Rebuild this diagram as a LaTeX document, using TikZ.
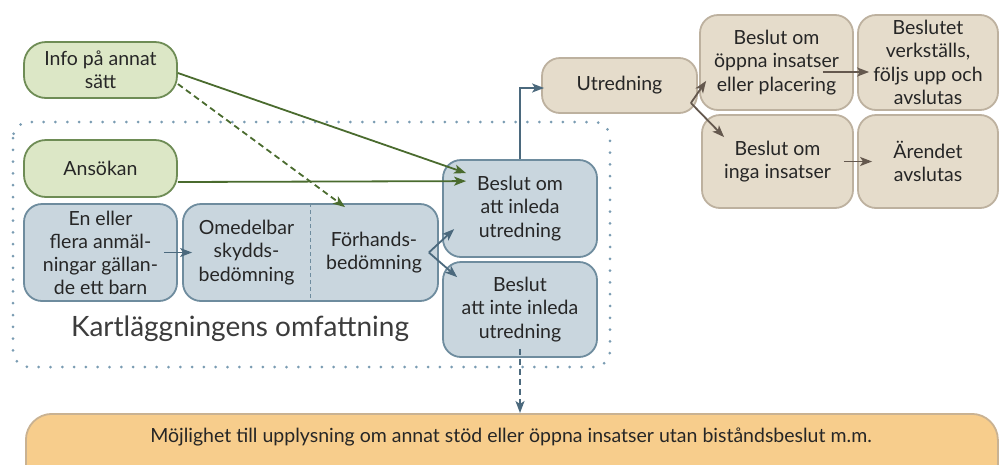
\documentclass[tikz,border=0pt]{standalone}
\usepackage{fontspec}
\setmainfont{Lato}
\usetikzlibrary{arrows.meta,calc}
\definecolor{gfill}{HTML}{DCE7C6}
\definecolor{gdraw}{HTML}{6E8C55}
\definecolor{garrow}{HTML}{4A6B2E}
\definecolor{bfill}{HTML}{C9D6DE}
\definecolor{bdraw}{HTML}{6E8C9E}
\definecolor{barrow}{HTML}{4B697D}
\definecolor{tfill}{HTML}{E5DCCB}
\definecolor{tdraw}{HTML}{BDB19F}
\definecolor{tarrow}{HTML}{64584E}
\definecolor{ofill}{HTML}{F7CD8C}
\definecolor{odraw}{HTML}{C9B292}
\definecolor{dotc}{HTML}{7A9CB2}
\definecolor{txt}{HTML}{262626}
\tikzset{
  box/.style={draw, rounded corners=18pt, line width=1.8pt, align=center, inner sep=0pt,
    text=txt, font=\fontsize{19.5}{23.5}\selectfont},
  gbox/.style={box, fill=gfill, draw=gdraw, rounded corners=22pt},
  bbox/.style={box, fill=bfill, draw=bdraw},
  tbox/.style={box, fill=tfill, draw=tdraw},
  obox/.style={box, fill=ofill, draw=odraw, rounded corners=26pt},
  tip/.style={-{Stealth[length=12pt,width=9pt,inset=3pt]}},
  garr/.style={tip, draw=garrow, line width=1.8pt},
  barr/.style={tip, draw=barrow, line width=1.8pt},
  tarr/.style={tip, draw=tarrow, line width=1.8pt},
  txtonly/.style={align=center, inner sep=0pt, text=txt, font=\fontsize{19.5}{23.5}\selectfont},
}
\begin{document}
\begin{tikzpicture}[x=1pt,y=1pt]
\useasboundingbox (0,0) rectangle (1001,-464);
% dotted region
\draw[dotc, line width=3pt, line cap=round, dash pattern=on 0pt off 11.8pt, rounded corners=16pt]
  (13,-122) rectangle (610,-367);
% bottom box
\node[obox, minimum width=972pt, minimum height=80pt, anchor=north west] (bottom) at (25,-413) {};
\node[txtonly] (btext) at (511,-437)
  {Möjlighet till upplysning om annat stöd eller öppna insatser utan biståndsbeslut m.m.};
% green
\node[gbox, minimum width=153pt, minimum height=56pt] (info) at (100.5,-70) {Info på annat\\sätt};
\node[gbox, minimum width=153pt, minimum height=57pt] (ansokan) at (100.5,-168.5) {Ansökan};
% blue
\node[bbox, minimum width=153pt, minimum height=97pt, font=\fontsize{19.5}{23}\selectfont] (anmal) at (100.5,-252.5)
  {En eller\\flera anmäl-\\ningar gällan-\\de ett barn};
\node[bbox, minimum width=255pt, minimum height=97pt] (combo) at (310.5,-252.5) {};
\draw[bdraw, line width=1.2pt, dash pattern=on 4pt off 3pt] (combo.north) -- (combo.south);
\node[txtonly] (omed) at (246.5,-252.5) {Omedelbar\\skydds-\\bedömning};
\node[txtonly] (forh) at (374,-252.5) {Förhands-\\bedömning};
\node[bbox, minimum width=154pt, minimum height=97pt] (beslut1) at (520,-208.5) {Beslut om\\att inleda\\utredning};
\node[bbox, minimum width=154pt, minimum height=95pt] (beslut2) at (520,-309.5) {Beslut\\att inte inleda\\utredning};
\node[txtonly, font=\fontsize{28}{32}\selectfont, text=txt!90] (kart) at (240,-329) {Kartläggningens omfattning};
% tan
\node[tbox, minimum width=155pt, minimum height=55pt] (utred) at (619.5,-85.5) {Utredning};
\node[tbox, minimum width=153pt, minimum height=95pt] (oppna) at (776.5,-62.5) {Beslut om\\öppna insatser\\eller placering};
\node[tbox, minimum width=140pt, minimum height=95pt] (verk) at (928,-62.5) {Beslutet\\verkställs,\\följs upp och\\avslutas};
\node[tbox, minimum width=151pt, minimum height=93pt] (inga) at (777.5,-161.5) {Beslut om\\inga insatser};
\node[tbox, minimum width=140pt, minimum height=93pt] (arendet) at (928,-161.5) {Ärendet\\avslutas};
% arrows
\draw[garr] ([yshift=-3pt]info.east) -- ([xshift=24pt,yshift=-14pt]beslut1.north west);
\draw[garr] ([yshift=-13.5pt]ansokan.east) -- ([xshift=24pt,yshift=-22pt]beslut1.north west);
\draw[garr, dash pattern=on 6pt off 4pt] ([yshift=-14pt]info.east) -- ([xshift=-29pt,yshift=-4pt]forh.north |- combo.north);
\draw[barr] ([xshift=-14pt]anmal.east) -- ([xshift=10pt]combo.west);
\coordinate (split) at ([xshift=-10pt]combo.east);
\draw[barr] (split) -- ([xshift=12pt,yshift=-70pt]beslut1.north west);
\draw[barr] (split) -- ([xshift=15pt,yshift=-16pt]beslut2.north west);
\draw[barr] (beslut1.north) |- ([xshift=3pt,yshift=-2.5pt]utred.west);
\coordinate (usplit) at ([xshift=-7pt,yshift=-17.5pt]utred.east);
\draw[tarr] (usplit) -- ([xshift=7pt,yshift=30pt]oppna.south west);
\draw[tarr] (usplit) -- ([xshift=23pt,yshift=-23pt]inga.north west);
\draw[tarr] ([xshift=-31pt,yshift=-9.5pt]oppna.east) -- ([xshift=12pt,yshift=-9.5pt]verk.west);
\draw[tarr] ([xshift=-10pt]inga.east) -- ([xshift=15pt]arendet.west);
\draw[barr, dash pattern=on 6pt off 4pt] ([yshift=9pt]beslut2.south) -- (beslut2.south |- bottom.north);
\end{tikzpicture}
\end{document}
